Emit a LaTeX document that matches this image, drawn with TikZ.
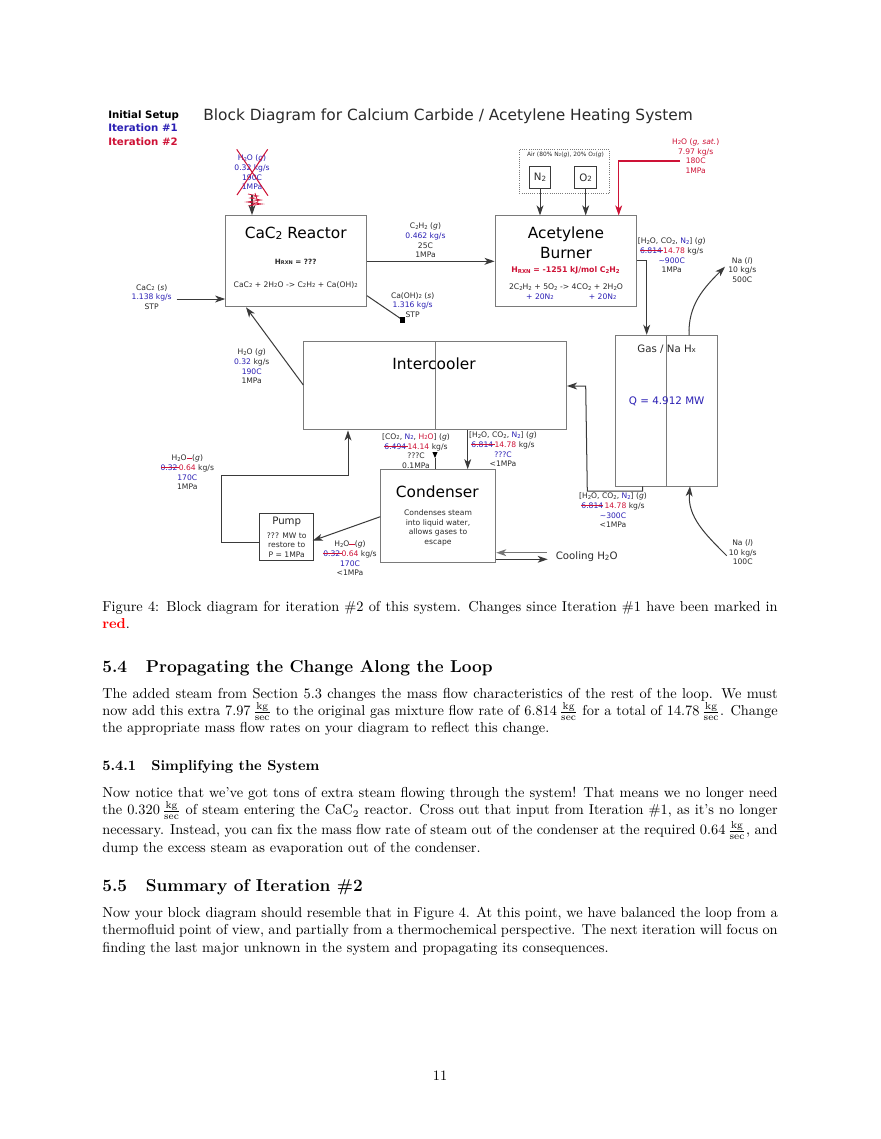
\documentclass[tikz,border=0pt]{standalone}
\usepackage{fontspec}
\usetikzlibrary{arrows.meta,calc}
\newfontfamily\djv{DejaVu Sans}
\definecolor{rd}{HTML}{CE1236}
\definecolor{bl}{HTML}{2A1FB4}
\definecolor{tx}{HTML}{2A2A2A}
\definecolor{lin}{HTML}{3A3A3A}
\definecolor{bx}{HTML}{7A7A7A}
\makeatletter
\newcommand\subs[1]{{\edef\tmpsz{\strip@pt\dimexpr 0.7\dimexpr\f@size pt\relax\relax}\fontsize{\tmpsz}{0}\selectfont\raisebox{-0.12ex}{#1}}}
\makeatother
\newcommand\strk[1]{\begingroup\setbox0\hbox{#1}\copy0\llap{\textcolor{rd}{\rule[0.3em]{\wd0}{0.55pt}}}\endgroup}
\newcommand\B[1]{\textcolor{bl}{#1}}
\newcommand\R[1]{\textcolor{rd}{#1}}
\newcommand\frc{\frac{\mathrm{kg}}{\mathrm{sec}}}
\tikzset{
  x=0.6955pt,y=-0.6955pt,
  boxn/.style={draw=bx,line width=0.7pt,inner sep=0pt,fill=white},
  lab/.style={font=\djv\fontsize{5.3}{6.7}\selectfont,text=tx,align=center,inner sep=0pt},
  big/.style={font=\djv\fontsize{10.7}{14}\selectfont,text=black,align=center,inner sep=0pt},
  mid/.style={font=\djv\fontsize{7.1}{8}\selectfont,text=tx,align=center,inner sep=0pt},
  con/.style={draw=lin,line width=0.7pt},
  arr/.style={con,-{Stealth[length=7pt,width=4.8pt,inset=2pt]}},
  para/.style={anchor=north west,inner sep=0pt,text width=469.75pt,align=justify,font=\normalsize,text=black},
  head/.style={anchor=base west,inner sep=0pt,font=\large\bfseries,text=black},
  subhead/.style={anchor=base west,inner sep=0pt,font=\normalsize\bfseries,text=black},
}
\begin{document}
\begin{tikzpicture}
\fill[white] (0,0) rectangle (880,1139);
\useasboundingbox (0,0) rectangle (880,1139);
% boxes
\node[boxn,minimum width=98.2pt,minimum height=63.5pt] (reactor) at (296.3,261.3) {};
\node[boxn,minimum width=98.4pt,minimum height=63.1pt] (burner) at (565.8,261.3) {};
\node[boxn,minimum width=182.9pt,minimum height=61.4pt] (cooler) at (435,385.8) {};
\node[boxn,minimum width=71pt,minimum height=105pt] (hx) at (666.7,410.8) {};
\node[boxn,minimum width=80.3pt,minimum height=64.7pt] (cond) at (438,516.2) {};
\node[boxn,draw=lin,minimum width=37.6pt,minimum height=32.7pt] (pump) at (286.3,536.8) {};
\node[draw=bx,densely dotted,line width=0.5pt,inner sep=0pt,minimum width=62.4pt,minimum height=30.6pt] (air) at (564.2,171.3) {};
\node[boxn,draw=lin,minimum width=14.9pt,minimum height=15pt] (n2) at (540,177.5) {};
\node[boxn,draw=lin,minimum width=14.9pt,minimum height=15pt] (o2) at (585.7,177.5) {};
\draw[bx,line width=0.6pt] (cooler.north) -- (cooler.south);
\draw[bx,line width=0.6pt] (hx.north) -- (hx.south);
% free ends
\coordinate (h2oTop) at (252,195);
\coordinate (cacIn) at (176.7,299);
\coordinate (caohEnd) at (402.7,320);
\coordinate (steamStart) at (680,161);
\coordinate (steamEnd) at (618.7,161);
\coordinate (burnOut) at (646.7,260.7);
\coordinate (naTopA) at (689,335.3);
\coordinate (naTopB) at (725,266.7);
\coordinate (naBotA) at (726.7,555.7);
\coordinate (naBotB) at (690,486.3);
\coordinate (hxOut) at (642.7,486.3);
\coordinate (hxTurn) at (587.3,491);
\coordinate (coolIn) at (585.7,386);
\coordinate (rIn) at (246,307.3);
\coordinate (coolOutL) at (303.3,385);
\coordinate (coolRet) at (348,475.3);
\coordinate (pumpTurn) at (221.3,542.3);
\coordinate (cndL) at (380.3,516.7);
\coordinate (pmpR) at (312.7,540.7);
\coordinate (cw1) at (546.7,552.7);
\coordinate (cw2) at (547.7,559.3);
\coordinate (g1) at (435,458);
\coordinate (g2) at (467.7,430);
\coordinate (rb) at (367,261.3);
\coordinate (caohS) at (367,295.7);
% connectors
\draw[arr] (h2oTop) -- (h2oTop |- reactor.north);
\draw[arr] (cacIn) -- (cacIn -| reactor.west);
\draw[con] (caohS) -- (caohEnd);
\fill[black] ($(caohEnd)+(-2.7,-2.7)$) rectangle ($(caohEnd)+(2.7,2.7)$);
\draw[arr] (reactor.east |- rb) -- (burner.west |- rb);
\draw[arr] (n2.south) -- (n2.south |- burner.north);
\draw[arr] (o2.south) -- (o2.south |- burner.north);
\draw[arr,draw=rd] (steamStart) -- (steamEnd) -- (steamEnd |- burner.north);
\draw[arr] (burner.east |- burnOut) -- (burnOut) -- (burnOut |- hx.north);
\draw[arr] (naTopA) to[out=92,in=225] (naTopB);
\draw[arr] (naBotA) to[out=135,in=265] (naBotB);
\draw[arr] (hxOut) -- (hxOut |- hxTurn) -- (hxTurn) -- (coolIn) -- (cooler.east |- coolIn);
\draw[arr] (coolOutL) -- (rIn);
\draw[con] (g1) -- (g1 |- cond.north);
\fill[black] ($(g1)+(-2.6,-6)$) -- ($(g1)+(2.6,-6)$) -- (g1) -- cycle;
\draw[arr] (g2) -- (g2 |- cond.north);
\draw[arr] (cndL) -- (pmpR);
\draw[arr] (pump.west |- pumpTurn) -- (pumpTurn) -- (pumpTurn |- coolRet) -- (coolRet) -- (coolRet |- cooler.south);
\draw[arr,draw=lin!70] (cw1) -- (cw1 -| cond.east);
\draw[arr] (cw2 -| cond.east) -- (cw2);
% legend and title
\node[anchor=west,inner sep=0pt,font=\djv\bfseries\fontsize{7.1}{9.2}\selectfont,align=left] (legend) at (108,128) {Initial Setup\\\B{Iteration \#1}\\\R{Iteration \#2}};
\node[anchor=west,inner sep=0pt,font=\djv\fontsize{10.72}{12}\selectfont,text=tx] (title) at (203,116) {Block Diagram for Calcium Carbide / Acetylene Heating System};
% reactor inner
\node[big] (t1) at (295.7,233) {CaC\subs{2} Reactor};
\node[lab,font=\djv\bfseries\fontsize{5}{6}\selectfont] (t2) at (295.7,262) {H\subs{RXN} = ???};
\node[lab] (t3) at (295.7,285) {CaC\subs{2} + 2H\subs{2}O -> C\subs{2}H\subs{2} + Ca(OH)\subs{2}};
% burner inner
\node[big] (t4) at (566,243) {Acetylene\\Burner};
\node[lab,font=\djv\bfseries\fontsize{5.4}{6}\selectfont,text=rd] (t5) at (565.5,270.5) {H\subs{RXN} = -1251 kJ/mol C\subs{2}H\subs{2}};
\node[lab,font=\djv\fontsize{5.35}{6.7}\selectfont] (t6) at (566,287) {2C\subs{2}H\subs{2} + 5O\subs{2} -> 4CO\subs{2} + 2H\subs{2}O};
\node[lab,text=bl] (t7) at (540,296.5) {+ 20N\subs{2}};
\node[lab,text=bl] (t8) at (602.7,296.5) {+ 20N\subs{2}};
\node[lab,font=\djv\fontsize{4.1}{5}\selectfont] (t9) at (565.5,154.5) {Air (80\% N\subs{2}(\textit{g}), 20\% O\subs{2}(\textit{g})};
\node[mid] at (n2) {N\subs{2}};
\node[mid] at (o2) {O\subs{2}};
% other inner
\node[big] (t10) at (434,364) {Intercooler};
\node[mid] (t11) at (666.7,348.7) {Gas / Na H\subs{x}};
\node[mid,text=bl,font=\djv\fontsize{7.2}{8}\selectfont] (t12) at (666.7,401.3) {Q = 4.912 MW};
\node[big] (t13) at (437.3,492) {Condenser};
\node[lab] (t14) at (438,528) {Condenses steam\\into liquid water,\\allows gases to\\escape};
\node[mid] (t15) at (286.7,521.7) {Pump};
\node[lab] (t16) at (286.7,545) {??? MW to\\restore to\\P = 1MPa};
\node[mid] (t17) at (586.7,557) {Cooling H\subs{2}O};
% stream labels
\node[lab,text=bl] (l1) at (252,172.5) {H\subs{2}O (\textit{g})\\0.32 kg/s\\190C\\1MPa};
\draw[rd,line width=0.7pt] (236.7,149.3) -- (268,195.7) (267.7,149.3) -- (237,195);
\draw[rd,line width=0.5pt] (248,194) -- (258,196) -- (250,198) -- (261,200) -- (247,202) -- (262,204) -- (250,205.5) -- (258,202) -- (255,193);
\node[lab] (l2) at (151.7,296.8) {CaC\subs{2} (\textit{s})\\\B{1.138 kg/s}\\STP};
\node[lab] (l3) at (412.7,304.8) {Ca(OH)\subs{2} (\textit{s})\\\B{1.316 kg/s}\\STP};
\node[lab] (l4) at (425.5,240.6) {C\subs{2}H\subs{2} (\textit{g})\\\B{0.462 kg/s}\\25C\\1MPa};
\node[lab,text=rd] (l5) at (695.7,156) {H\subs{2}O (\textit{g, sat.})\\7.97 kg/s\\180C\\1MPa};
\node[lab] (l6) at (671.7,255.5) {[H\subs{2}O, CO\subs{2}, \B{N\subs{2}}] (\textit{g})\\\strk{\B{6.814}\,}\R{14.78} kg/s\\\B{\textasciitilde900C}\\1MPa};
\node[lab] (l7) at (742.3,270) {Na (\textit{l})\\10 kg/s\\500C};
\node[lab] (l8) at (251.7,366.5) {H\subs{2}O (\textit{g})\\\B{0.32} kg/s\\\B{190C}\\1MPa};
\node[lab] (l9) at (416,451.2) {[CO\subs{2}, \B{N\subs{2}}, \R{H\subs{2}O}] (\textit{g})\\\strk{\B{6.494}\,}\R{14.14} kg/s\\???C\\0.1MPa};
\node[lab] (l10) at (503,449.5) {[H\subs{2}O, CO\subs{2}, \B{N\subs{2}}] (\textit{g})\\\strk{\B{6.814}\,}\R{14.78} kg/s\\\B{???C}\\<1MPa};
\node[lab] (l11) at (613,510.5) {[H\subs{2}O, CO\subs{2}, \B{N\subs{2}}] (\textit{g})\\\strk{\B{6.814}}\,\R{14.78} kg/s\\\B{\textasciitilde300C}\\<1MPa};
\node[lab] (l12) at (187.3,472.5) {H\subs{2}O\strk{\phantom{--}}(\textit{g})\\\strk{\B{0.32}\,}\R{0.64} kg/s\\\B{170C}\\1MPa};
\node[lab] (l13) at (350,558.5) {H\subs{2}O\strk{\phantom{--}}(\textit{g})\\\strk{\B{0.32}\,}\R{0.64} kg/s\\\B{170C}\\<1MPa};
\node[lab] (l14) at (742.7,552.4) {Na (\textit{l})\\10 kg/s\\100C};
% body text
\node[para] (p1) at (102,601) {Figure 4: Block diagram for iteration \#2 of this system. Changes since Iteration \#1 have been marked in \textcolor{red}{\textbf{red}}.};
\node[head] (h1) at (102,672) {5.4\hspace{13pt}Propagating the Change Along the Loop};
\node[para] (p2) at (102,688) {The added steam from Section 5.3 changes the mass flow characteristics of the rest of the loop. We must now add this extra 7.97\,$\frc$ to the original gas mixture flow rate of 6.814\,$\frc$ for a total of 14.78\,$\frc$. Change the appropriate mass flow rates on your diagram to reflect this change.};
\node[subhead] (h2) at (102,770) {5.4.1\hspace{1.05em}Simplifying the System};
\node[para] (p3) at (102,787) {Now notice that we've got tons of extra steam flowing through the system! That means we no longer need\linebreak the 0.320\,$\frc$ of steam entering the CaC$_2$ reactor. Cross out that input from Iteration \#1, as it's no longer\linebreak necessary. Instead, you can fix the mass flow rate of steam out of the condenser at the required 0.64\,$\frc$, and\linebreak dump the excess steam as evaporation out of the condenser.};
\node[head] (h3) at (102,891) {5.5\hspace{13pt}Summary of Iteration \#2};
\node[para] (p4) at (102,907) {Now your block diagram should resemble that in Figure 4. At this point, we have balanced the loop from a\linebreak thermofluid point of view, and partially from a thermochemical perspective. The next iteration will focus on\linebreak finding the last major unknown in the system and propagating its consequences.};
\node[inner sep=0pt,font=\normalsize,anchor=base] (pg) at (440,1080) {11};
\end{tikzpicture}
\end{document}
